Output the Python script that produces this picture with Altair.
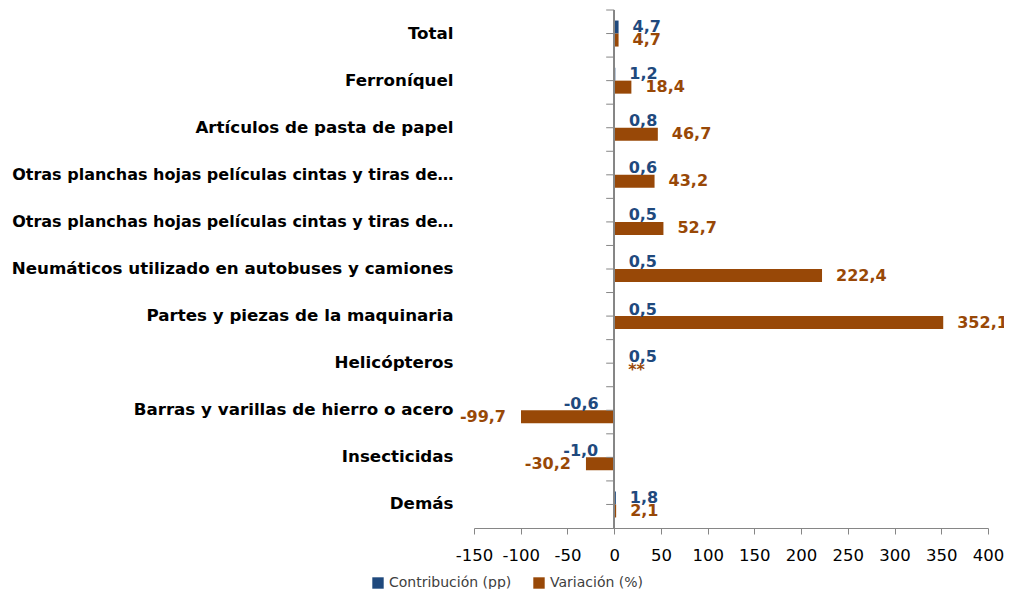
import json
import altair as alt
import pandas as pd

categories = [
    "Total",
    "Ferroníquel",
    "Artículos de pasta de papel ",
    "Otras planchas hojas películas cintas y tiras de…",
    "Otras planchas hojas películas cintas y tiras de…",
    "Neumáticos utilizado en autobuses y camiones",
    "Partes y piezas de la maquinaria ",
    "Helicópteros",
    "Barras y varillas de hierro o acero",
    "Insecticidas ",
    "Demás",
]
contribucion = [4.7, 1.2, 0.8, 0.6, 0.5, 0.5, 0.5, 0.5, -0.6, -1.0, 1.8]
variacion = [4.7, 18.4, 46.7, 43.2, 52.7, 222.4, 352.1, None, -99.7, -30.2, 2.1]
series = ["Contribución (pp)", "Variación (%)"]
colors = ["#1F497D", "#984807"]
x_ticks = [-150, -100, -50, 0, 50, 100, 150, 200, 250, 300, 350, 400]

keys = [f"{i:02d}" for i in range(len(categories))]
rows = []
for i, k in enumerate(keys):
    for s, vals in zip(series, [contribucion, variacion]):
        v = vals[i]
        rows.append({
            "key": k,
            "series": s,
            "value": v,
            "xpos": v if v is not None else 0.0,
            "label": "**" if v is None else f"{v:.1f}".replace(".", ","),
        })
df = pd.DataFrame(rows)

FONT = "DejaVu Sans"
label_expr = json.dumps(categories, ensure_ascii=False) + "[toNumber(datum.value)]"

y_enc = alt.Y(
    "key:N", sort=keys,
    scale=alt.Scale(paddingInner=0, paddingOuter=0),
    axis=alt.Axis(title=None, labelExpr=label_expr, labelFont=FONT,
                  labelFontSize={"condition": {"test": "datum.value == '03' || datum.value == '04'",
                                               "value": 16},
                                 "value": 16.7},
                  labelFontWeight="bold", labelColor="#000000", labelPadding=21,
                  domain=False, ticks=False, labelLimit=600),
)
yoff = alt.YOffset("series:N", sort=series,
                   scale=alt.Scale(paddingInner=0, paddingOuter=0.81))
x_enc = alt.X(
    "value:Q",
    scale=alt.Scale(domain=[-150, 400], nice=False, zero=False),
    axis=alt.Axis(values=x_ticks, title=None, grid=False, labelFont=FONT,
                  labelFontSize=16.5, labelColor="#000000", domainColor="#868686",
                  tickColor="#868686", tickSize=6, labelPadding=13, labelFlush=False,
                  labelExpr="'' + datum.value"),
)
color_enc = alt.Color(
    "series:N", sort=series,
    scale=alt.Scale(domain=series, range=colors),
    legend=alt.Legend(title=None, orient="none", legendX=-103, legendY=566,
                      direction="horizontal", symbolType="square", symbolSize=130,
                      symbolStrokeWidth=0, labelFont=FONT, labelFontSize=14,
                      labelColor="#404040", columnPadding=20, labelOffset=4),
)
color_nolegend = alt.Color("series:N", sort=series,
                           scale=alt.Scale(domain=series, range=colors), legend=None)

base = alt.Chart(df)

bars = base.mark_bar().encode(x=x_enc, y=y_enc, yOffset=yoff, color=color_enc)

text_style = dict(baseline="middle", font=FONT, fontSize=16, fontWeight="bold")
pos_text = base.transform_filter("datum.xpos >= 0").mark_text(
    align="left", dx=14, **text_style
).encode(x=alt.X("xpos:Q"), y=y_enc, yOffset=yoff, text="label:N", color=color_nolegend)
neg_text = base.transform_filter("datum.xpos < 0").mark_text(
    align="right", dx=-15, **text_style
).encode(x=alt.X("xpos:Q"), y=y_enc, yOffset=yoff, text="label:N", color=color_nolegend)

zero_line = base.mark_rule(color="#868686", strokeWidth=1.2).encode(x=alt.datum(0))

cat_only = base.transform_filter(alt.datum.series == series[0])
center_ticks = cat_only.mark_rule(color="#868686", xOffset=-8).encode(
    x=alt.datum(0), x2=alt.datum(0), y=y_enc)
edge_ticks = cat_only.mark_rule(color="#868686", xOffset=-8).encode(
    x=alt.datum(0), x2=alt.datum(0),
    y=alt.Y("key:N", sort=keys, bandPosition=0,
            scale=alt.Scale(paddingInner=0, paddingOuter=0)))

chart = alt.layer(bars, zero_line, center_ticks, edge_ticks, pos_text, neg_text).properties(
    width=514, height=518,
    padding={"left": 466, "top": 2, "right": 16, "bottom": 61},
    autosize=alt.AutoSizeParams(type="none"),
).configure_view(stroke=None)

chart.save("out.html", embed_options={"renderer": "svg", "actions": False})
